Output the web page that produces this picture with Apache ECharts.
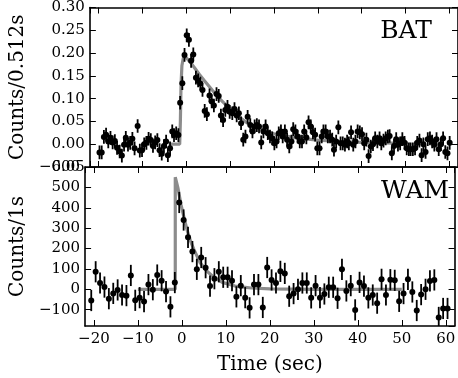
<!DOCTYPE html>
<html><head><meta charset="utf-8">
<script src="https://cdn.jsdelivr.net/npm/echarts@6/dist/echarts.min.js"></script>
<style>html,body{margin:0;padding:0;background:#fff}#c{width:458px;height:378px}</style>
</head><body><div id="c"></div>
<script>
// ---- BAT (counts / 0.512 s) ----
const batTime = [-19.8,-19.3,-18.8,-18.3,-17.8,-17.3,-16.8,-16.3,-15.8,-15.2,-14.7,-14.2,-13.8,-13.3,-12.8,-12.3,-11.8,-11.1,-10.6,-10.1,
 -9.6,-9.1,-8.6,-8.1,-7.6,-7.1,-6.6,-6.1,-5.6,-5.1,-4.6,-4.2,-3.7,-3.2,-2.8,-2.3,-1.8,-1.4,-0.9,-0.4,
 0.1,0.6,1.1,1.6,2.2,2.7,3.2,3.7,4.2,4.7,5.3,5.8,6.3,6.9,7.4,7.9,8.4,8.9,9.4,9.9,
 10.5,11.0,11.5,12.0,12.5,13.0,13.5,14.0,14.6,15.1,15.6,16.1,16.6,17.1,17.6,18.1,18.6,19.1,19.6,20.1,
 20.6,21.1,21.6,22.0,22.5,23.0,23.5,24.0,24.4,24.9,25.4,25.9,26.4,26.9,27.4,27.9,28.4,28.9,29.4,29.9,
 30.4,30.9,31.3,31.8,32.3,32.8,33.3,33.7,34.2,34.7,35.2,35.7,36.2,36.7,37.1,37.6,38.1,38.6,39.1,39.6,
 40.1,40.6,41.1,41.6,42.1,42.6,43.1,43.6,44.1,44.5,45.0,45.5,46.0,46.4,46.9,47.4,47.9,48.3,48.8,49.3,
 49.8,50.3,50.8,51.2,51.7,52.2,52.7,53.2,53.7,54.1,54.6,55.1,55.6,56.1,56.6,57.1,57.6,58.1,58.6,59.1,59.6,60.1];
const batCounts = [-0.018,-0.018,0.016,0.021,0.006,0.014,0.004,0.007,-0.008,-0.016,-0.025,-0.001,0.014,-0.001,0.003,0.012,-0.009,0.040,-0.014,-0.013,
 0.000,0.003,0.012,0.009,-0.004,0.004,0.009,-0.013,-0.021,-0.004,0.006,-0.024,-0.009,0.028,0.020,0.024,0.020,0.091,0.134,0.196,
 0.239,0.229,0.183,0.197,0.146,0.140,0.133,0.119,0.073,0.066,0.107,0.094,0.085,0.110,0.106,0.063,0.053,0.075,0.082,0.071,
 0.068,0.077,0.063,0.068,0.046,0.010,0.017,0.060,0.042,0.028,0.039,0.042,0.039,0.004,0.028,0.039,0.024,0.017,0.013,0.002,
 0.006,0.024,0.028,0.017,0.028,0.010,-0.005,0.006,0.033,0.028,0.017,0.006,0.006,0.028,0.015,0.048,0.039,0.026,0.021,-0.009,
 -0.009,0.017,0.028,0.028,0.017,0.017,0.010,-0.012,0.006,0.037,0.002,0.002,-0.001,0.006,0.002,0.026,-0.001,0.006,0.028,0.026,
 0.022,0.002,0.010,-0.026,-0.005,0.000,0.013,0.006,0.013,0.002,0.008,0.013,0.017,0.018,-0.020,-0.004,0.011,-0.001,0.002,0.011,
 0.003,-0.009,-0.011,-0.011,-0.011,-0.009,0.003,0.008,-0.024,0.000,-0.017,0.011,0.013,0.006,-0.001,0.011,-0.011,0.000,0.013,-0.017,-0.020,0.003];
const batErr = 0.015;
const batModelTime  = [-4, -1.5, -1.35, -1.2, -1.0, -0.7, -0.4, 0, 1, 2, 3, 4, 6, 8, 10, 12, 14, 17, 20, 25, 30, 35, 40, 45, 49];
const batModelValue = [0, 0, 0.05, 0.13, 0.172, 0.188, 0.194, 0.192, 0.179, 0.166, 0.153, 0.141, 0.118, 0.096, 0.077, 0.060, 0.046, 0.033, 0.023, 0.014, 0.009, 0.006, 0.004, 0.003, 0.002];

// ---- WAM (counts / 1 s) ----
const wamTime = [-20.6,-19.6,-18.6,-17.6,-16.6,-15.6,-14.6,-13.6,-12.6,-11.6,-10.6,-9.6,-8.6,-7.6,-6.6,-5.6,-4.6,-3.6,-2.6,-1.6,
 -0.6,0.4,1.4,2.4,3.4,4.4,5.4,6.4,7.4,8.4,9.4,10.4,11.4,12.4,13.4,14.4,15.4,16.4,17.4,18.4,
 19.4,20.4,21.4,22.4,23.4,24.4,25.4,26.4,27.4,28.4,29.4,30.4,31.4,32.4,33.4,34.4,35.4,36.4,37.4,38.4,
 39.4,40.4,41.4,42.4,43.4,44.4,45.4,46.4,47.4,48.4,49.4,50.4,51.4,52.4,53.4,54.4,55.4,56.4,57.4,58.4,59.4,60.4];
const wamCounts = [-55,86,31,11,-46,-20,-3,-28,-31,68,-54,-41,-60,23,-2,70,42,-11,-86,33,
 426,340,255,185,98,156,106,16,52,86,59,59,42,-37,18,-41,-91,23,23,-89,
 107,46,31,88,78,-34,-21,0,31,31,-42,18,-41,-23,10,10,-44,98,-8,18,
 -101,34,16,-42,-28,-68,49,-28,47,44,-59,-21,49,-13,-104,-26,0,41,46,-138,-94,-94];
const wamErr = 52;
const wamModelTime  = [-10, -1.5, -1.5, -0.9, -0.2, 0.5, 1.2, 2.0, 2.7, 3.5, 4.1, 5.0, 5.6, 7.1, 9.2, 12.1, 15.8, 20, 30, 50];
const wamModelValue = [0, 0, 550, 498, 416, 350, 290, 235, 197, 160, 132, 108, 91, 62, 34, 16, 6.5, 2, 0, 0];

// ---- axes ----
const xRange = [-22, 62];
const batRange = [-0.05, 0.30];
const wamRange = [-180, 600];

const FONT = '"DejaVu Serif", serif';
const minus = s => String(s).replace('-', '\u2212');
const zip = (a, b) => a.map((v, i) => [v, b[i]]);

function xAx(grid, pos, labels, name) {
  return {
    type: 'value', gridIndex: grid, position: pos, min: xRange[0], max: xRange[1],
    minInterval: 10, maxInterval: 10,
    axisLine: {show: true, onZero: false, lineStyle: {color: '#000', width: 1.6}},
    axisTick: {show: true, inside: true, length: 6, lineStyle: {color: '#000', width: 1}},
    axisLabel: {show: labels, showMinLabel: false, showMaxLabel: false, margin: 6,
      color: '#000', fontFamily: FONT, fontSize: 15, formatter: v => minus(v)},
    splitLine: {show: false},
    name: name || '', nameLocation: 'middle', nameGap: 29,
    nameTextStyle: {color: '#000', fontFamily: FONT, fontSize: 20}
  };
}
function yAx(grid, pos, range, opts, labels, name) {
  return Object.assign({
    type: 'value', gridIndex: grid, position: pos, min: range[0], max: range[1],
    axisLine: {show: true, onZero: false, lineStyle: {color: '#000', width: 1.6}},
    axisTick: {show: true, inside: true, length: 6, lineStyle: {color: '#000', width: 1}},
    splitLine: {show: false},
    name: name || '', nameLocation: 'middle', nameRotate: 90, nameGap: 46,
    nameTextStyle: {color: '#000', fontFamily: FONT, fontSize: 20}
  }, opts, {axisLabel: Object.assign({show: labels, margin: 5, color: '#000', fontFamily: FONT, fontSize: 15}, opts.axisLabel || {})});
}

function errSeries(xi, yi, t, v, err) {
  return {
    type: 'custom', xAxisIndex: xi, yAxisIndex: yi, z: 3, silent: true, clip: true,
    data: t.map((x, i) => [x, v[i], err]),
    encode: {x: 0, y: 1},
    renderItem: (p, api) => {
      const a = api.coord([api.value(0), api.value(1) - api.value(2)]);
      const b = api.coord([api.value(0), api.value(1) + api.value(2)]);
      return {type: 'line', shape: {x1: a[0], y1: a[1], x2: b[0], y2: b[1]}, style: {stroke: '#000', lineWidth: 1.8}};
    }
  };
}
function ptSeries(xi, yi, t, v) {
  return {type: 'scatter', xAxisIndex: xi, yAxisIndex: yi, z: 4, silent: true,
    data: zip(t, v), symbol: 'circle', symbolSize: 6, itemStyle: {color: '#000', opacity: 1}};
}
function modelSeries(xi, yi, t, v) {
  return {type: 'line', xAxisIndex: xi, yAxisIndex: yi, z: 2, silent: true, showSymbol: false, symbol: 'none',
    data: zip(t, v), lineStyle: {color: '#8c8c8c', width: 3.2}};
}

const chart = echarts.init(document.getElementById('c'), null, {renderer: 'canvas'});
chart.setOption({
  animation: false,
  backgroundColor: '#fff',
  grid: [
    {left: 72, top: 7, width: 387, height: 160},
    {left: 72, top: 167, width: 387, height: 159}
  ],
  xAxis: [
    xAx(0, 'bottom', false), xAx(0, 'top', false),
    xAx(1, 'bottom', true, 'Time (sec)'), xAx(1, 'top', false)
  ],
  yAxis: [
    yAx(0, 'left', batRange, {interval: 0.05, axisLabel: {formatter: v => minus(v.toFixed(2))}}, true, 'Counts/0.512s'),
    yAx(0, 'right', batRange, {interval: 0.05}, false),
    yAx(1, 'left', wamRange, {minInterval: 100, maxInterval: 100, axisLabel: {showMinLabel: false, formatter: v => minus(v)}}, true, 'Counts/1s'),
    yAx(1, 'right', wamRange, {minInterval: 100, maxInterval: 100}, false)
  ],
  graphic: [
    {type: 'text', x: 406, y: 31, z: 10, style: {text: 'BAT', font: '25px "DejaVu Serif"', fill: '#000', align: 'center', verticalAlign: 'middle'}},
    {type: 'text', x: 415, y: 191, z: 10, style: {text: 'WAM', font: '25px "DejaVu Serif"', fill: '#000', align: 'center', verticalAlign: 'middle'}}
  ],
  series: [
    modelSeries(0, 0, batModelTime, batModelValue),
    errSeries(0, 0, batTime, batCounts, batErr),
    ptSeries(0, 0, batTime, batCounts),
    modelSeries(2, 2, wamModelTime, wamModelValue),
    errSeries(2, 2, wamTime, wamCounts, wamErr),
    ptSeries(2, 2, wamTime, wamCounts)
  ]
});
</script></body></html>
